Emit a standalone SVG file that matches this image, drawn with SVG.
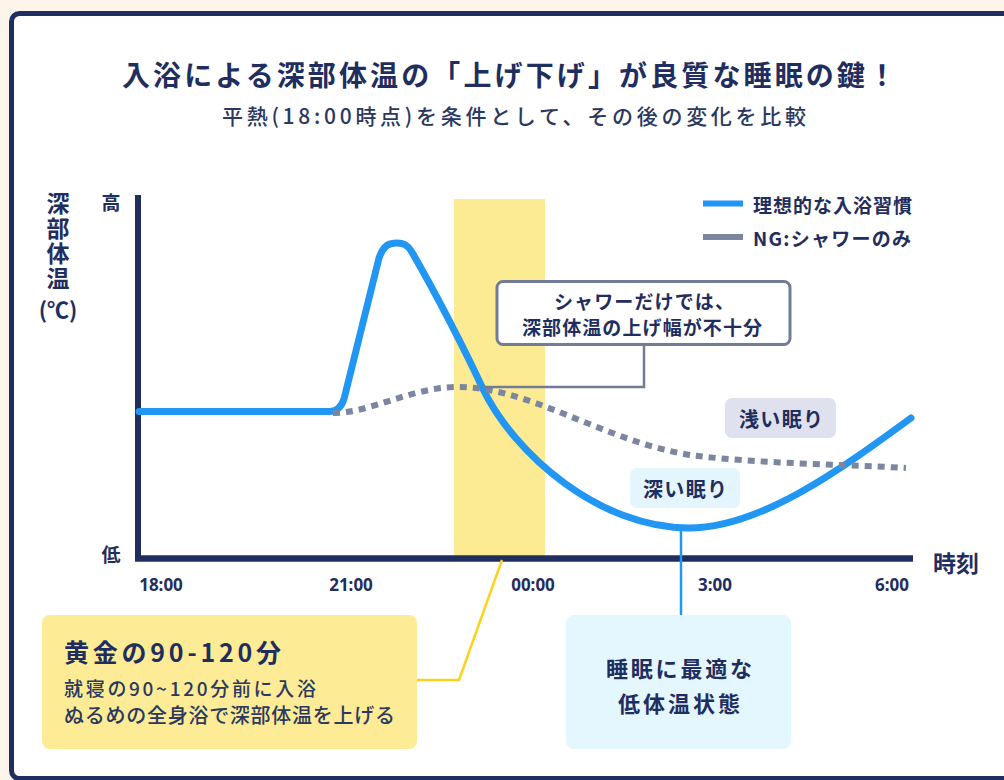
<svg xmlns="http://www.w3.org/2000/svg" width="1004" height="780" viewBox="0 0 1004 780">
<style>
.jp{font-family:"Noto Sans CJK JP","Noto Sans",sans-serif;fill:#1f2e5e}
.b{font-weight:700}
.m{font-weight:500}
.num{font-family:"Noto Sans","Noto Sans CJK JP",sans-serif;font-weight:700;fill:#1f2e5e;font-size:17px;text-anchor:middle}
.mid{text-anchor:middle}
.conn{fill:none;stroke-linejoin:miter}
</style>
<rect x="0" y="0" width="1004" height="780" fill="#fdf5ea"/>
<rect x="11.5" y="13.5" width="1010" height="765" rx="8" fill="#ffffff" stroke="#1f2e5e" stroke-width="5"/>

<g id="title">
<text class="jp b" x="122" y="86" font-size="28" textLength="774" lengthAdjust="spacing">入浴による深部体温の「上げ下げ」が良質な睡眠の鍵！</text>
<text class="jp m" x="222" y="124" font-size="21" textLength="584" lengthAdjust="spacing" style="fill:#2b3860">平熱(18:00時点)を条件として、その後の変化を比較</text>
</g>

<g id="golden-band">
<rect x="454" y="199" width="91" height="358" fill="#fdeb94"/>
</g>

<g id="axes">
<line x1="138" y1="195" x2="138" y2="561" stroke="#1f2e5e" stroke-width="6"/>
<line x1="135" y1="558.5" x2="913" y2="558.5" stroke="#1f2e5e" stroke-width="6.5"/>
<text class="jp b" x="58" y="192" font-size="23" writing-mode="tb" letter-spacing="2">深部体温</text>
<text class="jp b mid" x="58" y="318" font-size="22">(℃)</text>
<text class="jp b mid" x="111" y="210" font-size="19">高</text>
<text class="jp b mid" x="111" y="562" font-size="19">低</text>
<text class="jp b" x="933" y="572" font-size="23">時刻</text>
<text class="num" x="161" y="591">18:00</text>
<text class="num" x="351" y="591">21:00</text>
<text class="num" x="533" y="591">00:00</text>
<text class="num" x="715" y="591">3:00</text>
<text class="num" x="892" y="591">6:00</text>
</g>

<g id="curve-ideal">
<path d="M139,411.5 L329,411.5 Q340,411.5 344,399 L379,258 C384,244 390,243 397,243 C404,243 408,245 413,254 C435,292 465,350 483,389 C515,455 600,528 689,528 C760,528 840,470 911,418" fill="none" stroke="#2196f3" stroke-width="7" stroke-linejoin="round" stroke-linecap="round"/>
</g>

<g id="curve-ng">
<path d="M333,413 C370,413 410,388 455,387 C530,386 600,440 690,455 C760,464 840,464 906,468" fill="none" stroke="#7d869f" stroke-width="6" stroke-dasharray="7 6"/>
</g>

<g id="legend">
<line x1="703" y1="203.5" x2="743" y2="203.5" stroke="#2196f3" stroke-width="6"/>
<text class="jp b" x="753" y="212.5" font-size="19" textLength="159" lengthAdjust="spacing">理想的な入浴習慣</text>
<line x1="703" y1="237" x2="743" y2="237" stroke="#7d869f" stroke-width="6"/>
<text class="jp b" x="753" y="245.5" font-size="19" textLength="158" lengthAdjust="spacing">NG:シャワーのみ</text>
</g>

<g id="connectors">
<path class="conn" d="M644,345 V387 H483" stroke="#737c96" stroke-width="2.5"/>
<path class="conn" d="M502,560 L459,680 H417" stroke="#fdd21f" stroke-width="2.5"/>
<path class="conn" d="M681,528 V615" stroke="#2196f3" stroke-width="2.5"/>
</g>

<g id="callout-shower">
<rect x="497" y="281.5" width="293" height="63" rx="6" fill="#ffffff" stroke="#737c96" stroke-width="3"/>
<text class="jp b" x="554" y="308.5" font-size="19" textLength="180" lengthAdjust="spacing">シャワーだけでは、</text>
<text class="jp b" x="522" y="334.5" font-size="19" textLength="240" lengthAdjust="spacing">深部体温の上げ幅が不十分</text>
</g>

<g id="label-light-sleep">
<rect x="725" y="398" width="111" height="40" rx="7" fill="#dfe2ee"/>
<text class="jp b" x="739" y="427" font-size="20" textLength="84" lengthAdjust="spacing">浅い眠り</text>
</g>

<g id="label-deep-sleep">
<rect x="630" y="468" width="110" height="40" rx="7" fill="#e4f5fd"/>
<text class="jp b" x="643" y="497" font-size="20" textLength="84" lengthAdjust="spacing">深い眠り</text>
</g>

<g id="box-golden">
<rect x="42" y="615" width="375" height="134" rx="8" fill="#fdec95"/>
<text class="jp b" x="64" y="662" font-size="25" textLength="217" lengthAdjust="spacing">黄金の90-120分</text>
<text class="jp m" x="64" y="695.5" font-size="19" textLength="252" lengthAdjust="spacing" style="fill:#2b3860">就寝の90~120分前に入浴</text>
<text class="jp m" x="64" y="723" font-size="20" textLength="331" lengthAdjust="spacing" style="fill:#2b3860">ぬるめの全身浴で深部体温を上げる</text>
</g>

<g id="box-low-temp">
<rect x="566" y="615" width="225" height="134" rx="8" fill="#e4f6fe"/>
<text class="jp b" x="606" y="677" font-size="22" textLength="146" lengthAdjust="spacing">睡眠に最適な</text>
<text class="jp b" x="618" y="712" font-size="22" textLength="122" lengthAdjust="spacing">低体温状態</text>
</g>
</svg>
